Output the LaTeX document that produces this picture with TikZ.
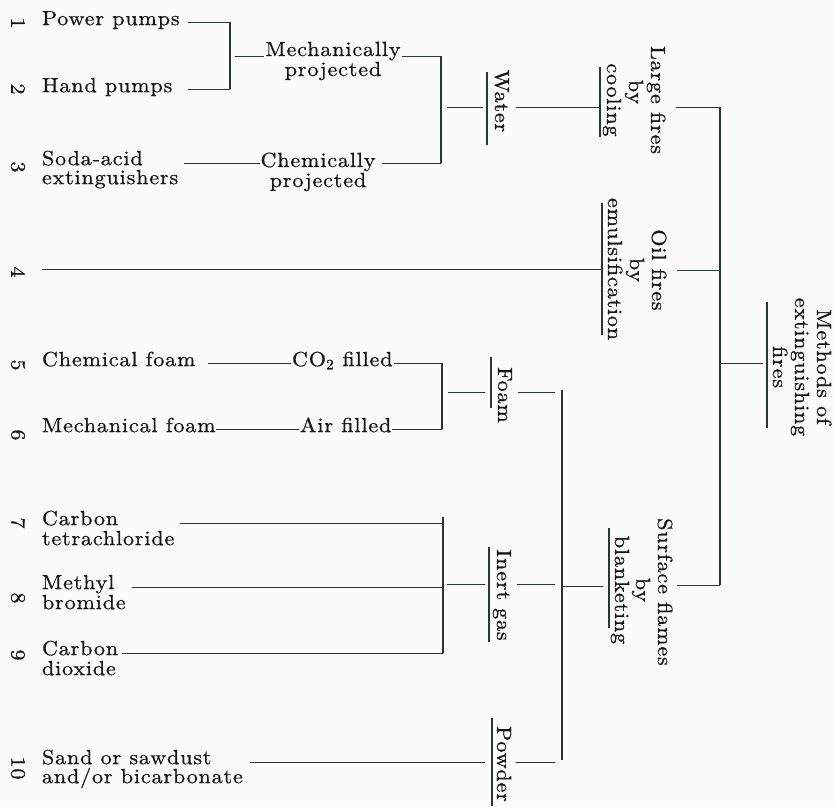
\documentclass[tikz,border=0pt]{standalone}
\usepackage{fontspec}
\setmainfont{lmroman10-regular.otf}[FakeStretch=1.08,LetterSpace=4,FakeBold=0.7]
\usetikzlibrary{calc}
\definecolor{ink}{HTML}{161616}
\definecolor{inkline}{HTML}{2C3530}
\definecolor{paper}{HTML}{FBFBF9}
\newcommand\MyRule[4]{%
  \node[minimum height=#4pt, minimum width=0pt, inner sep=0pt] (#1) at (#2,#3) {};
  \draw[rul] (#1.north) -- (#1.south);}
\begin{document}
\begin{tikzpicture}[x=1pt,y=-1pt,
  every node/.style={inner sep=0pt, outer sep=0pt, text=ink, font=\fontsize{20.5pt}{21pt}\selectfont},
  lbl/.style={anchor=mid west},
  lbltwo/.style={anchor=base west},
  mid/.style={anchor=base},
  vlbl/.style={rotate=-90, anchor=base},
  numlbl/.style={rotate=-90, anchor=center},
  ln/.style={draw=inkline, line width=1pt},
  brk/.style={draw=inkline, line width=1.6pt},
  mainbrk/.style={draw=inkline, line width=1.9pt},
  rul/.style={draw=inkline, line width=1.3pt},
]
\fill[paper] (0,0) rectangle (835,806);
\useasboundingbox (0,0) rectangle (835,806);

% ---------- group: water ----------
\node[numlbl] (n1) at (18,23) {1};
\node[lbl] (t1) at (42,23) {Power pumps};
\node[numlbl] (n2) at (18,89) {2};
\node[lbl] (t2) at (42,90) {Hand pumps};
\coordinate (a12) at (188,0);
\coordinate (B1t) at (230,22);
\coordinate (B1b) at (230,89);
\coordinate (B1m) at (230,56);
\draw[brk] (B1t) -- (B1b);
\draw[ln] (B1t -| a12) -- (B1t);
\draw[ln] (B1b -| a12) -- (B1b);

\node[mid] (m1a) at (333,56) {Mechanically};
\node[mid] (m1b) at (333,76) {projected};
\coordinate (B2t) at (441,56);
\coordinate (B2b) at (441,163);
\coordinate (B2m) at (441,107);
\draw[ln] ($(B1m)+(5,0)$) -- ($(m1a.base west)+(-1,0)$);
\draw[ln] ($(m1a.base east)+(1,0)$) -- (B2t);

\node[numlbl] (n3) at (18,167) {3};
\node[lbl] (t3a) at (42,163) {Soda-acid};
\node[lbltwo] (t3b) at ($(t3a.base west)+(0,19)$) {extinguishers};
\node[mid] (m3a) at (318,167) {Chemically};
\node[mid] (m3b) at (318,187) {projected};
\draw[ln] ($(t3a.mid -| t3b.east)+(6,0)$) -- ($(t3a.mid -| m3a.west)+(-1,0)$);
\draw[ln] ($(t3a.mid -| m3a.east)+(6,0)$) -- (B2b);
\draw[brk] (B2t) -- (B2b);

\MyRule{rW}{487}{108.5}{73}
\node[vlbl] (water) at (495,101) {Water};
\draw[ln] ($(B2m)+(6,0)$) -- ($(B2m -| rW)+(-4,0)$);
\MyRule{rLF}{600}{102}{70}
\draw[ln] ($(B2m -| water.north)+(7,0)$) -- (B2m -| rLF);

\node[vlbl] (lf1) at (651,100) {Large fires};
\node[vlbl] (lf2) at (629,92) {by};
\node[vlbl] (lf3) at (607,100) {cooling};
\coordinate (B6t) at (720,107);
\draw[ln] ($(B6t -| lf1.north)+(11,0)$) -- (B6t);

% ---------- oil ----------
\node[numlbl] (n4) at (18,272) {4};
\coordinate (c4) at (42,269);
\MyRule{rOF}{602}{269}{132}
\draw[ln] (c4) -- (rOF);
\node[vlbl] (of1) at (652,270) {Oil fires};
\node[vlbl] (of2) at (630,270) {by};
\node[vlbl] (of3) at (608,269) {emulsification};
\coordinate (B6o) at (720,270);
\draw[ln] ($(B6o -| of1.north)+(11,0)$) -- (B6o);

% ---------- root ----------
\MyRule{rME}{767}{365}{126}
\node[vlbl] (me1) at (817,367) {Methods of};
\node[vlbl] (me2) at (795,367) {extinguishing};
\node[vlbl] (me3) at (773,367) {fires};
\coordinate (B6c) at (720,363);
\draw[ln] (B6c) -- ($(B6c -| rME)+(-4,0)$);

% ---------- foam ----------
\node[numlbl] (n5) at (18,365) {5};
\node[lbl] (t5) at (42,364) {Chemical foam};
\node[lbl] (m5) at (292,364) {CO\textsubscript{2} filled};
\coordinate (B3t) at (442,363);
\coordinate (B3b) at (442,429);
\coordinate (B3m) at (442,392);
\draw[ln] ($(B3t -| t5.east)+(12,0)$) -- ($(B3t -| m5.west)+(-1,0)$);
\draw[ln] ($(B3t -| m5.east)+(1,0)$) -- (B3t);
\node[numlbl] (n6) at (18,435) {6};
\node[lbl] (t6) at (42,430) {Mechanical foam};
\node[lbl] (m6) at (300,430) {Air filled};
\draw[ln] (B3b -| t6.east) -- ($(B3b -| m6.west)+(-1,0)$);
\draw[ln] ($(B3b -| m6.east)+(1,0)$) -- (B3b);
\draw[brk] (B3t) -- (B3b);
\MyRule{rFoam}{491}{382.5}{51}
\node[vlbl] (foam) at (498,395) {Foam};
\coordinate (B5t) at (562,390);
\coordinate (B5b) at (562,760);
\draw[ln] ($(B3m)+(6,0)$) -- ($(B3m -| rFoam)+(-6,0)$);
\draw[ln] ($(B3m -| foam.north)+(6,0)$) -- ($(B3m -| B5t)+(-7,0)$);

% ---------- inert gas ----------
\node[numlbl] (n7) at (18,523) {7};
\node[lbl] (t7a) at (42,523) {Carbon};
\node[lbltwo] (t7b) at ($(t7a.base west)+(0,20)$) {tetrachloride};
\node[numlbl] (n8) at (18,598) {8};
\node[lbl] (t8a) at (42,587) {Methyl};
\node[lbltwo] (t8b) at ($(t8a.base west)+(0,20)$) {bromide};
\node[numlbl] (n9) at (18,655) {9};
\node[lbl] (t9a) at (42,653) {Carbon};
\node[lbltwo] (t9b) at ($(t9a.base west)+(0,20)$) {dioxide};
\coordinate (B4t) at (443,517);
\coordinate (B4b) at (443,653);
\coordinate (B4m) at (443,584);
\draw[ln] ($(t7a.mid -| t7b.east)+(6,0)$) -- (t7a.mid -| B4t);
\draw[ln] ($(t8a.mid -| t8b.east)+(6,0)$) -- (t8a.mid -| B4t);
\draw[ln] ($(t9a.mid -| t9b.east)+(6,0)$) -- (t9a.mid -| B4t);
\draw[brk] (B4t) -- (B4b);
\MyRule{rIn}{489}{594.5}{95}
\node[vlbl] (inert) at (497,595) {Inert gas};
\draw[ln] ($(B4m)+(4,0)$) -- ($(B4m -| rIn)+(-4,0)$);
\draw[ln] ($(B4m -| inert.north)+(6,0)$) -- ($(B4m -| B5t)+(-7,0)$);

% ---------- surface flames ----------
\MyRule{rSF}{609}{578}{100}
\node[vlbl] (sf1) at (658,592) {Surface flames};
\node[vlbl] (sf2) at (636,590) {by};
\node[vlbl] (sf3) at (615,590) {blanketing};
\coordinate (B5s) at (562,586);
\draw[ln] (B5s) -- ($(B5s -| rSF)+(-6,0)$);
\coordinate (B6b) at (720,585);
\draw[ln] ($(B6b -| sf1.north)+(5,0)$) -- (B6b);
\draw[mainbrk] (B6t) -- (B6b);

% ---------- powder ----------
\node[numlbl] (n10) at (18,768) {10};
\node[lbl] (t10a) at (42,762) {Sand or sawdust};
\node[lbltwo] (t10b) at ($(t10a.base west)+(0,19)$) {and/or bicarbonate};
\MyRule{rPow}{492}{762}{88}
\node[vlbl] (powder) at (497,764) {Powder};
\coordinate (B5p) at (562,762);
\draw[ln] ($(t10a.mid -| t10b.east)+(7,0)$) -- ($(t10a.mid -| rPow)+(-7,0)$);
\draw[ln] ($(B5p -| powder.north)+(5,0)$) -- ($(B5p)+(-7,0)$);
\draw[brk] (B5t) -- (B5b);
\end{tikzpicture}
\end{document}
